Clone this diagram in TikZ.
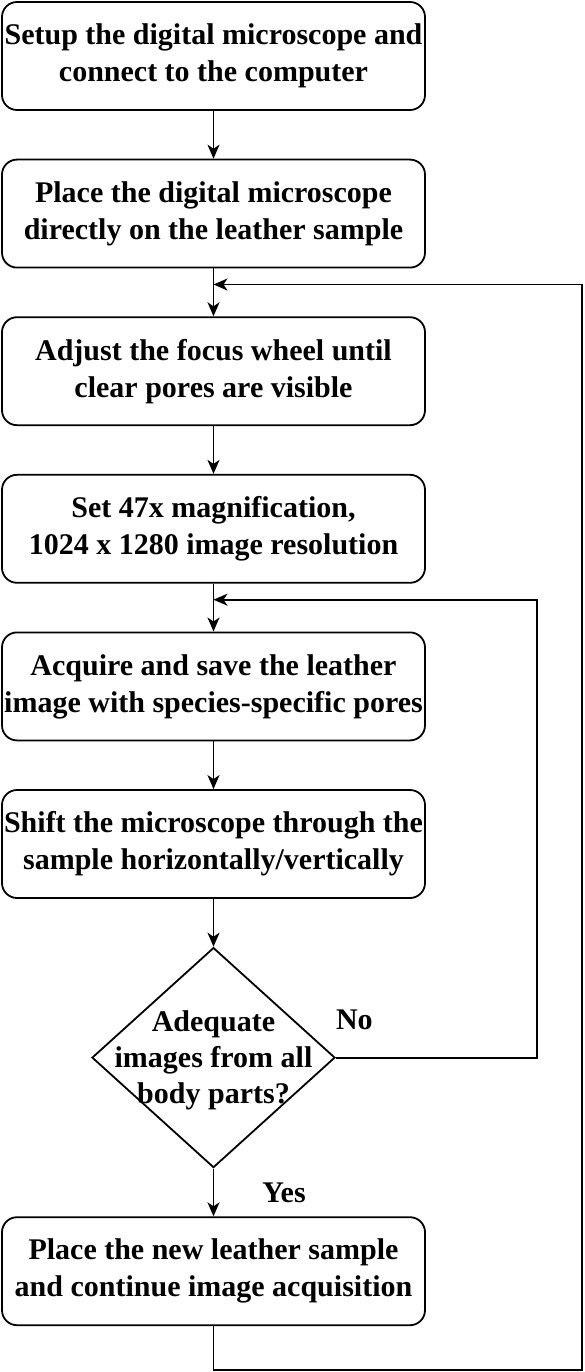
\documentclass[tikz,border=0pt]{standalone}
\usepackage{fontspec}
\setmainfont{Liberation Serif}
\usetikzlibrary{arrows.meta, chains, positioning, shapes.geometric}
\tikzset{
>={Stealth[length=14pt,width=12pt,inset=4pt]},
  stepchain/.style={
    rectangle,
    rounded corners=15pt,
    draw=black, line width=1.8pt,
    minimum width=423pt,
    minimum height=108pt,
    inner xsep=1pt,
    align=center,
    font=\bfseries\fontsize{30}{37}\selectfont,
    on chain},
  decision/.style={
    diamond,
    draw=black, line width=1.8pt,
    minimum width=243pt,
    minimum height=220pt,
    inner sep=0pt,
    on chain},
  labeltext/.style={font=\bfseries\fontsize{30}{36}\selectfont, align=center},
  line/.style={draw, line width=1.8pt, ->},
  every join/.style={->, line width=1.8pt},
}

\begin{document}
\begin{tikzpicture}[node distance=47.8pt, start chain=going below,]
     \useasboundingbox[fill=white] (-213.5pt,56pt) rectangle (371.5pt,-1316pt);
     \node[stepchain, join] (Setup)    {Setup the digital microscope and\\connect to the computer};
     \node[stepchain, join] (Place)    {Place the digital microscope\\directly on the leather sample};
     \node[stepchain, join] (Focus)    {Adjust the focus wheel until\\clear pores are visible};
     \node[stepchain, join] (Settings) {Set 47x magnification,\\1024 x 1280 image resolution};
     \node[stepchain, join] (Acquire)  {Acquire and save the leather\\image with species-specific pores};
     \node[stepchain, join] (Shift)    {Shift the microscope through the\\sample horizontally/vertically};
     \node[decision, join]  (Check)    {};
     \node[stepchain, join] (Next)     {Place the new leather sample\\and continue image acquisition};
     \node[labeltext, yshift=-3pt] (CheckText) at (Check) {Adequate\\images from all\\body parts?};
     % answers of the decision
     \node[labeltext] (No)  at ([xshift=18.5pt,yshift=38pt]Check.east) {No};
     \node[labeltext] (Yes) at ([xshift=70.5pt,yshift=-24.5pt]Check.south) {Yes};
     % loops back into the chain
     \coordinate (InnerJoin)  at ([yshift=-16pt]Settings.south);
     \coordinate (OuterJoin)  at ([yshift=-16pt]Place.south);
     \coordinate (BottomTurn) at ([yshift=-44pt]Next.south);
     \draw[line] (Check.east) -- ++(201pt,0) |- (InnerJoin);
     \draw[line] (Next.south) -- (BottomTurn) -- ++(368.5pt,0) |- (OuterJoin);
\end{tikzpicture}
\end{document}
